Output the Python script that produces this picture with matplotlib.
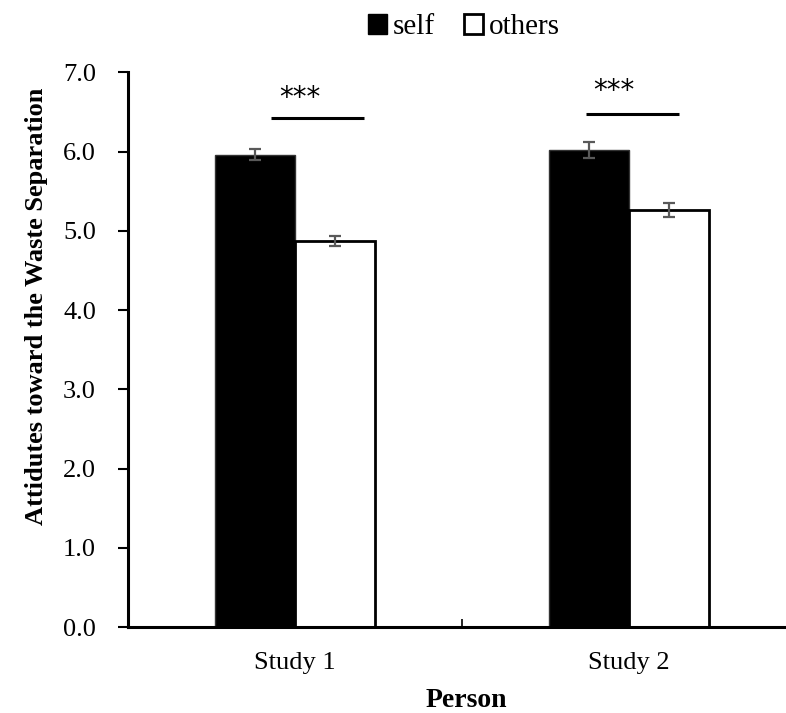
import numpy as np
import matplotlib
matplotlib.use('Agg')
import matplotlib.pyplot as plt
from matplotlib.patches import Patch

plt.rcParams['font.family'] = ['Liberation Serif', 'DejaVu Serif']

studies = ['Study 1', 'Study 2']
self_mean = [5.96, 6.02]
self_err = [0.07, 0.10]
others_mean = [4.87, 5.26]
others_err = [0.06, 0.09]
sig_labels = ['***', '***']
sig_y = [6.42, 6.48]

fig = plt.figure(figsize=(7.86, 7.13), dpi=100)
ax = fig.add_axes([0.1628, 0.1206, 0.85, 0.778])

x = np.arange(len(studies))
w = 0.24
ekw = dict(ecolor='#595959', capsize=4.5, elinewidth=1.6, capthick=1.6)
ax.bar(x - w / 2, self_mean, w, color='black', edgecolor='#333333', linewidth=1,
       yerr=self_err, error_kw=ekw, label='self')
ax.bar(x + w / 2, others_mean, w, color='white', edgecolor='black', linewidth=2,
       yerr=others_err, error_kw=ekw, label='others')

# significance lines and stars
line_start = [-0.072, -0.129]
star_x = [0.015, -0.045]
star_y = [6.68, 6.76]
for i in range(len(studies)):
    x0 = i + line_start[i]
    ax.plot([x0, x0 + 0.28], [sig_y[i], sig_y[i]], color='black', lw=2.2, solid_capstyle='butt')
    ax.text(i + star_x[i], star_y[i], sig_labels[i], ha='center', va='center',
            fontsize=20, family='DejaVu Sans')

ax.set_xlim(-0.5, 1.5)
ax.set_ylim(0, 7)
ax.set_yticks(np.arange(0, 7.5, 1.0))
ax.set_yticklabels([f'{v:.1f}' for v in np.arange(0, 7.5, 1.0)], fontsize=19)
ax.set_xticks([0.5])
ax.set_xticklabels([''])
ax.tick_params(axis='x', direction='in', length=6, width=1.2)
ax.tick_params(axis='y', direction='out', length=7, width=1.5, pad=16)
for i, s in enumerate(studies):
    ax.text(i, -0.31, s, ha='center', va='top', fontsize=19)

for sp in ['top', 'right']:
    ax.spines[sp].set_visible(False)
for sp in ['left', 'bottom']:
    ax.spines[sp].set_linewidth(2.2)

fig.text(0.047, 0.57, 'Attidutes toward the Waste Separation', rotation=90,
         ha='center', va='center', fontsize=19, fontweight='bold')
fig.text(0.593, 0.0, 'Person', ha='center', va='bottom', fontsize=20, fontweight='bold')

handles = [Patch(facecolor='black', edgecolor='black', label='self'),
           Patch(facecolor='white', edgecolor='black', linewidth=2, label='others')]
fig.legend(handles=handles, loc='center', bbox_to_anchor=(0.59, 0.962), ncol=2, frameon=False,
           fontsize=21, handlelength=0.65, handleheight=0.7, handletextpad=0.2, columnspacing=1.0)

fig.savefig('out.png', dpi=100)
